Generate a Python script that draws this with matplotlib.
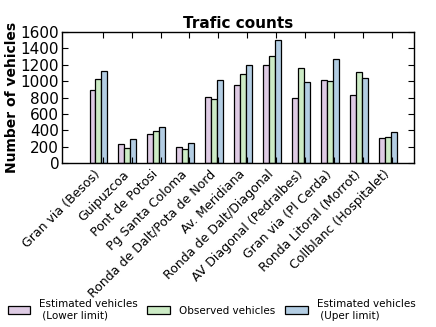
import numpy as np
import matplotlib
matplotlib.use("Agg")
import matplotlib.pyplot as plt

# Dades llegides de la figura
llocs = [
    "Gran via (Besos)", "Guipuzcoa", "Pont de Potosi", "Pg Santa Coloma",
    "Ronda de Dalt/Pota de Nord", "Av. Meridiana", "Ronda de Dalt/Diagonal",
    "AV Diagonal (Pedralbes)", "Gran via (Pl Cerda)", "Ronda Litoral (Morrot)",
    "Collblanc (Hospitalet)",
]
estimat_baix = [895, 237, 351, 192, 812, 953, 1200, 792, 1010, 828, 305]
observat = [1025, 188, 392, 176, 784, 1093, 1305, 1164, 998, 1108, 317]
estimat_alt = [1118, 295, 437, 245, 1016, 1195, 1502, 987, 1266, 1035, 384]

noms_series = ["Estimated vehicles\n (Lower limit)", "Observed vehicles",
               "Estimated vehicles\n (Uper limit)"]
colors = ["#decbe4", "#ccebc5", "#b3cde3"]  # Pastel1

fig = plt.figure(figsize=(4.36, 3.27), dpi=100)
ax = fig.add_axes([62 / 436, 1 - 163 / 327, 352 / 436, 131 / 327])

ind = np.arange(len(llocs))
amplada = 0.2
for i, (vals, color, nom) in enumerate(zip([estimat_baix, observat, estimat_alt],
                                           colors, noms_series)):
    ax.bar(ind + (i - 1) * amplada, vals, amplada, color=color,
           edgecolor="black", linewidth=0.9, label=nom)

ax.set_xlim(-1.25, 10.9)
ax.set_ylim(0, 1600)
ax.set_yticks(np.arange(0, 1601, 200))
ax.set_xticks(ind + 0.15)
ax.set_xticklabels(llocs, rotation=45, ha="right", fontsize=9)
ax.tick_params(axis="y", labelsize=11, pad=2)
ax.tick_params(direction="in", top=True, right=True, length=4)
for sp in ax.spines.values():
    sp.set_linewidth(1.0)

ax.set_title("Trafic counts", fontweight="bold", fontsize=11, pad=3)
ax.set_ylabel("Number of vehicles", fontweight="bold", fontsize=10, labelpad=1)

fig.legend(loc="lower center", bbox_to_anchor=(0.485, -0.01), ncol=3,
           fontsize=7.5, frameon=False, handlelength=2.2, handleheight=0.8,
           columnspacing=0.9, handletextpad=0.85)

fig.savefig("out.png", dpi=100)
